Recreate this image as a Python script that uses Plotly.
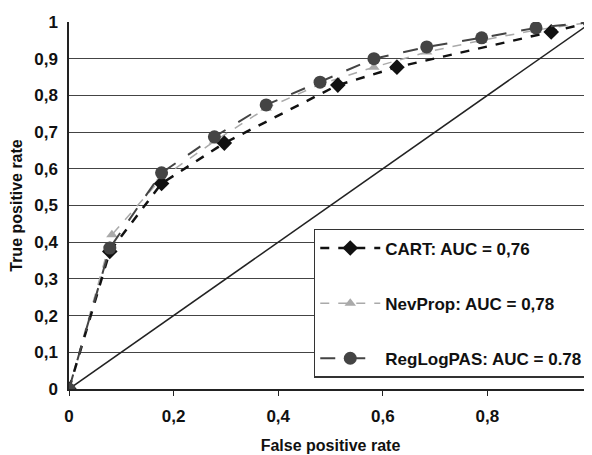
import plotly.graph_objects as go

# CART (diamonds, black dashed)
cart_fpr = [0, 0.078, 0.177, 0.297, 0.514, 0.627, 0.922, 1]
cart_tpr = [0, 0.375, 0.56, 0.67, 0.828, 0.877, 0.973, 1]

# NevProp (triangles, light gray)
nev_fpr = [0, 0.082, 0.177, 0.278, 0.377, 0.48, 0.583, 0.684, 0.789, 0.893, 1]
nev_tpr = [0, 0.42, 0.575, 0.675, 0.765, 0.83, 0.877, 0.918, 0.95, 0.978, 1]

# RegLogPAS (circles, dark gray)
reg_fpr = [0, 0.078, 0.177, 0.278, 0.377, 0.48, 0.583, 0.684, 0.789, 0.893, 1]
reg_tpr = [0, 0.384, 0.589, 0.687, 0.774, 0.836, 0.90, 0.932, 0.957, 0.984, 1]

diag = [0, 1]

x_ticks = [0, 0.2, 0.4, 0.6, 0.8, 1]
y_ticks = [0, 0.1, 0.2, 0.3, 0.4, 0.5, 0.6, 0.7, 0.8, 0.9, 1]

FONT = "Liberation Sans, Arial, sans-serif"

fig = go.Figure()

fig.add_trace(go.Scatter(x=diag, y=diag, mode="lines",
                         line=dict(color="#222", width=1.5),
                         showlegend=False, hoverinfo="skip", cliponaxis=False))

fig.add_trace(go.Scatter(x=nev_fpr, y=nev_tpr, mode="lines+markers",
                         name="NevProp: AUC = 0,78", legendgroup="b", legendrank=2,
                         line=dict(color="#aaaaaa", width=1.5, dash="dash"),
                         marker=dict(symbol="triangle-up", size=10, color="#aaaaaa")))

fig.add_trace(go.Scatter(x=cart_fpr, y=cart_tpr, mode="lines+markers",
                         name="CART: AUC = 0,76", legendgroup="a", legendrank=1,
                         line=dict(color="#111111", width=2.5, dash="dash"),
                         marker=dict(symbol="diamond", size=12, color="#111111")))

fig.add_trace(go.Scatter(x=reg_fpr, y=reg_tpr, mode="lines+markers",
                         name="RegLogPAS: AUC = 0.78", legendgroup="c", legendrank=3,
                         line=dict(color="#444444", width=2, dash="longdash"),
                         marker=dict(symbol="circle", size=13, color="#444444")))

fig.update_layout(
    width=592, height=455,
    margin=dict(l=61, r=8, t=14, b=74),
    paper_bgcolor="white", plot_bgcolor="white",
    separators=", ",
    font=dict(family=FONT, size=16, color="#111"),
    legend=dict(x=0.468, y=0.436, xanchor="left", yanchor="top",
                bgcolor="white", bordercolor="#333", borderwidth=1.5,
                font=dict(family=FONT, size=17, color="#111", weight="bold"),
                itemwidth=60, tracegroupgap=30, traceorder="grouped"),
    xaxis=dict(range=[0, 1], tickvals=x_ticks, showgrid=False, zeroline=False,
               automargin=False,
               showline=True, linecolor="#222", linewidth=1.5,
               ticks="outside", ticklen=5, tickcolor="#222",
               ticklabelstandoff=6,
               tickfont=dict(family=FONT, size=17, weight="bold"),
               title=dict(text="<b>False positive rate</b>",
                          font=dict(family=FONT, size=16))),
    yaxis=dict(range=[0, 1], tickvals=y_ticks, showgrid=True, gridcolor="#444",
               gridwidth=1, zeroline=False, automargin=False,
               showline=True, linecolor="#222", linewidth=1.5,
               ticks="", ticklabelstandoff=6,
               tickfont=dict(family=FONT, size=17, weight="bold"),
               title=dict(text="<b>True positive rate</b>",
                          font=dict(family=FONT, size=16))),
)

fig.write_html("out.html")
